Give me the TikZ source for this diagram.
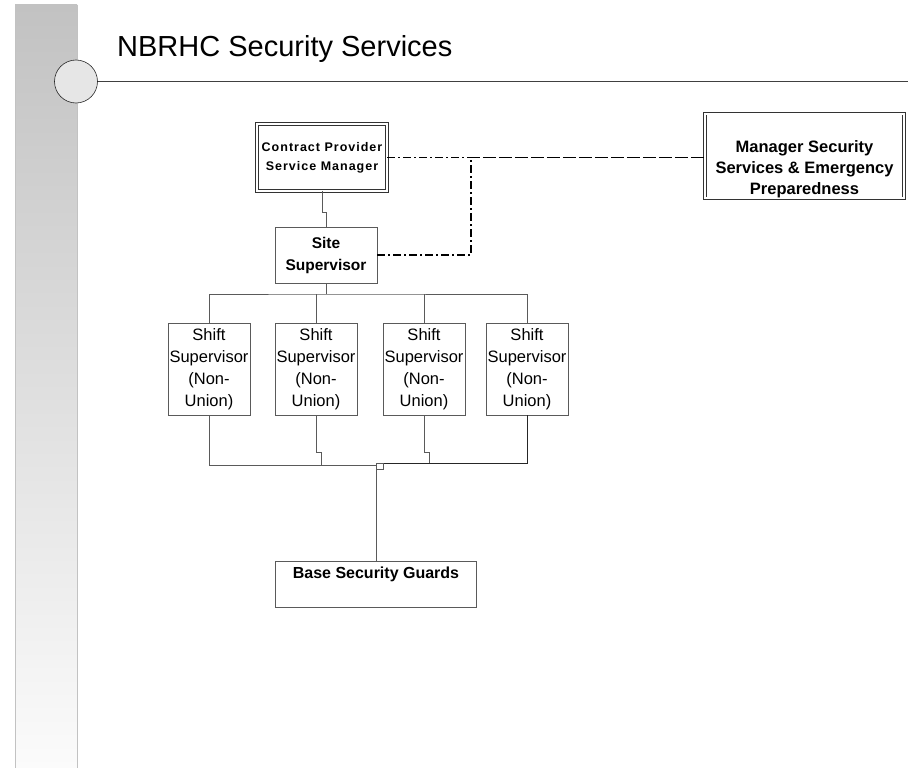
\documentclass[tikz,border=0pt]{standalone}
\usepackage{fontspec}
\setmainfont{Liberation Sans}
\newfontfamily\spacedsans[LetterSpace=8]{Liberation Sans}
\usetikzlibrary{calc}
\definecolor{sgray}{HTML}{5A5A5A}
\definecolor{bartop}{HTML}{C2C2C2}
\definecolor{barbot}{HTML}{FBFBFB}
\definecolor{sdot}{HTML}{E6E6E6}

\begin{document}
\begin{tikzpicture}[x=1pt,y=-1pt,
    BX/.style={draw=sgray,line width=0.9pt,rectangle,inner sep=0pt,align=center},
    DBX/.style={BX,draw=black!80,line width=0.7pt,double,double distance=2pt},
    LN/.style={draw=sgray,line width=0.9pt},
    DL/.style={draw=black,line width=1.3pt,dash pattern=on 8pt off 3pt on 2pt off 3pt}]
        \useasboundingbox (0,0) rectangle (908,768);
        % side bar with the round badge
        \shade[top color=bartop,bottom color=barbot] (15,5) rectangle (77,768);
        \draw[black!24,line width=0.6pt] (15,5) -- (15,768) (77,5) -- (77,768);
        \node[circle,draw=black!85,line width=0.6pt,fill=sdot,minimum size=43pt,inner sep=0pt] (badge) at (76,81.5) {};
        \draw[black!75,line width=0.9pt] (badge.east) -- (908,81.5);
        % Title
        \node[anchor=base west,inner sep=0pt,font=\fontsize{29}{34}\selectfont] (title) at (117,57) {NBRHC Security Services};
        % Contract provider (double frame)
        \node[DBX,minimum width=130pt,minimum height=67pt,font=\spacedsans\bfseries\fontsize{12.5}{19}\selectfont] (cpsm) at (322,157.5) {Contract Provider\\Service Manager};
        % Manager on the right (double frame)
        \node[DBX,minimum width=199pt,minimum height=84pt,font=\bfseries\fontsize{16.5}{21}\selectfont] (mgr) at (804.5,156) {\mbox{}\\[18pt]Manager Security\\Services \& Emergency\\Preparedness};
        % Site supervisor
        \node[BX,minimum width=102pt,minimum height=56pt,font=\bfseries\fontsize{15.5}{22}\selectfont] (site) at (326,255) {Site\\Supervisor};
        % Shift supervisors
        \node[BX,minimum width=82pt,minimum height=92pt,font=\fontsize{16.5}{22}\selectfont] (shift1) at (209,369) {Shift\\Supervisor\\(Non-\\Union)};
        \node[BX,minimum width=82pt,minimum height=92pt,font=\fontsize{16.5}{22}\selectfont] (shift2) at (316,369) {Shift\\Supervisor\\(Non-\\Union)};
        \node[BX,minimum width=82pt,minimum height=92pt,font=\fontsize{16.5}{22}\selectfont] (shift3) at (424,369) {Shift\\Supervisor\\(Non-\\Union)};
        \node[BX,minimum width=82pt,minimum height=92pt,font=\fontsize{16.5}{22}\selectfont] (shift4) at (527,369) {Shift\\Supervisor\\(Non-\\Union)};
        % Guards
        \node[BX,minimum width=201pt,minimum height=46pt,font=\bfseries\fontsize{16}{22}\selectfont] (guards) at (376,584) {Base Security Guards\\\mbox{}};
        % LINES
        % provider to site supervisor
        \draw[LN] (cpsm.south) -- ++(0,21) -| (site.north);
        % site supervisor to the shift supervisors
        \coordinate (bus) at (326,294);
        \draw[LN] (site.south) -- (bus);
        \draw[LN] (shift1.north) |- (bus) -| (shift4.north);
        \draw[LN] (shift2.north) -- (shift2.north |- bus);
        \draw[LN] (shift3.north) -- (shift3.north |- bus);
        % shift supervisors down to the guards
        \coordinate (jl) at (376,465);
        \coordinate (jr) at (376,463);
        \draw[LN] (shift1.south) |- (jl);
        \draw[LN] (shift2.south) -- ++(0,37) -- ++(5,0) -- ++(0,13);
        \draw[LN] (shift3.south) -- ++(0,37) -- ++(5,0) |- (jr);
        \draw[black!85,line width=0.9pt] (shift4.south) |- (jr);
        \draw[LN,line width=0.7pt] (jr) rectangle ++(7,6);
        \draw[LN] (jl) -- (guards.north);
        % dotted links to the manager
        \coordinate (knee) at (471,157.5);
        \draw[DL] (cpsm.east) -- (cpsm.east -| mgr.west);
        \draw[DL] (site.east) -| (knee) -- (knee -| mgr.west);
    \end{tikzpicture}
\end{document}
